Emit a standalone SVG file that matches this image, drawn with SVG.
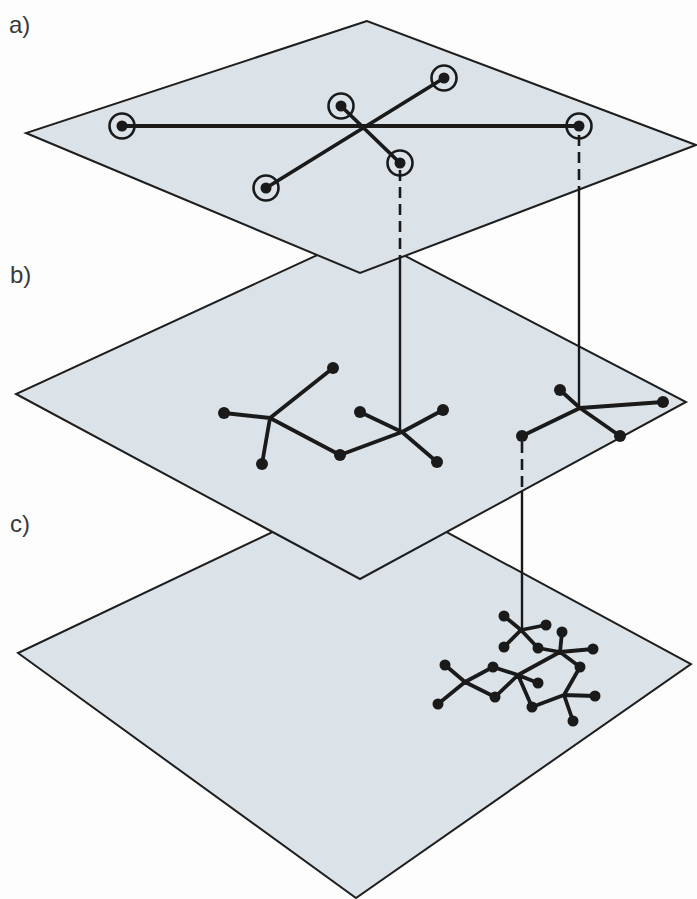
<svg xmlns="http://www.w3.org/2000/svg" xmlns:xlink="http://www.w3.org/1999/xlink" width="697" height="899" viewBox="0 0 697 899">
<style>
.plane{fill:#dbe2e8;stroke:#1e1e1e;stroke-width:2;stroke-linejoin:miter}
.edge{stroke:#1a1a1a;stroke-width:3.8;stroke-linecap:round;stroke-linejoin:round;fill:none}
.link{stroke:#1a1a1a;stroke-width:2.4;fill:none}
.dash{stroke:#1a1a1a;stroke-width:2.6;stroke-dasharray:11 6;fill:none}
.dot{fill:#1a1a1a}
.ring{fill:none;stroke:#1a1a1a;stroke-width:2.6}
.lbl{font-family:"Liberation Sans",Arial,sans-serif;font-size:24px;fill:#3a3a3a}
</style>
<defs>
<g id="rnode"><circle class="ring" r="12.5"/><circle class="dot" r="5.5"/></g>
<circle id="bdot" class="dot" r="6"/>
<circle id="cdot" class="dot" r="5.5"/>
</defs>
<rect width="697" height="899" fill="#fdfdfd"/>
<text class="lbl" x="9" y="33">a)</text>
<text class="lbl" x="10" y="283">b)</text>
<text class="lbl" x="10" y="532">c)</text>

<g id="plane-c"><path class="plane" d="M365,488 L18,653 L356,898 L691,664 Z"/></g>
<g id="plane-b"><path class="plane" d="M363,234 L16,394 L360,579 L686,402 Z"/></g>
<g id="plane-a"><path class="plane" d="M367,21 L26,133 L360,273 L696,145 Z"/></g>

<g id="connectors">
<path class="dash" d="M400,170 V259"/>
<path class="link" d="M400,259 V432"/>
<path class="dash" d="M579,135 V189"/>
<path class="link" d="M579,189 V408"/>
<path class="dash" d="M522,442 V491"/>
<path class="link" d="M522,491 V630"/>
</g>

<g id="edges-a">
<path class="edge" d="M122,126 H579 M266,188 L444,78 M341,106 L400,163"/>
</g>
<g id="edges-b">
<path class="edge" d="M270,418 L333,368 M270,418 L224,413 M270,418 L262,464 M270,418 L340,455 L402,432 M402,432 L360,412 M402,432 L443,410 M402,432 L437,462"/>
<path class="edge" d="M580,408 L560,390 M580,408 L663,402 M580,408 L620,436 M580,408 L522,436"/>
</g>
<g id="edges-c">
<path class="edge" d="M521,630 L504,616 M521,630 L546,625 M521,630 L504,647 M521,630 L538,648 L560,652 M560,652 L562,632 M560,652 L593,649 M560,652 L580,667 M560,652 L518,675 M518,675 L493,667 M518,675 L495,697 M518,675 L538,683 M518,675 L532,707 M465,682 L445,665 M465,682 L438,704 M465,682 L493,667 M465,682 L495,697 M564,695 L532,707 M564,695 L595,696 M564,695 L573,721 M564,695 L580,667"/>
</g>

<g id="n-a1"><use href="#rnode" x="122" y="126"/></g>
<g id="n-a2"><use href="#rnode" x="341" y="106"/></g>
<g id="n-a3"><use href="#rnode" x="444" y="78"/></g>
<g id="n-a4"><use href="#rnode" x="579" y="126"/></g>
<g id="n-a5"><use href="#rnode" x="400" y="163"/></g>
<g id="n-a6"><use href="#rnode" x="266" y="188"/></g>

<g id="n-b1"><use href="#bdot" x="333" y="368"/></g>
<g id="n-b2"><use href="#bdot" x="224" y="413"/></g>
<g id="n-b3"><use href="#bdot" x="262" y="464"/></g>
<g id="n-b4"><use href="#bdot" x="340" y="455"/></g>
<g id="n-b5"><use href="#bdot" x="360" y="412"/></g>
<g id="n-b6"><use href="#bdot" x="443" y="410"/></g>
<g id="n-b7"><use href="#bdot" x="437" y="462"/></g>
<g id="n-b8"><use href="#bdot" x="560" y="390"/></g>
<g id="n-b9"><use href="#bdot" x="663" y="402"/></g>
<g id="n-b10"><use href="#bdot" x="620" y="436"/></g>
<g id="n-b11"><use href="#bdot" x="522" y="436"/></g>

<g id="n-c1"><use href="#cdot" x="504" y="616"/></g>
<g id="n-c2"><use href="#cdot" x="546" y="625"/></g>
<g id="n-c3"><use href="#cdot" x="504" y="647"/></g>
<g id="n-c4"><use href="#cdot" x="538" y="648"/></g>
<g id="n-c5"><use href="#cdot" x="562" y="632"/></g>
<g id="n-c6"><use href="#cdot" x="593" y="649"/></g>
<g id="n-c7"><use href="#cdot" x="580" y="667"/></g>
<g id="n-c8"><use href="#cdot" x="493" y="667"/></g>
<g id="n-c9"><use href="#cdot" x="495" y="697"/></g>
<g id="n-c10"><use href="#cdot" x="538" y="683"/></g>
<g id="n-c11"><use href="#cdot" x="532" y="707"/></g>
<g id="n-c12"><use href="#cdot" x="445" y="665"/></g>
<g id="n-c13"><use href="#cdot" x="438" y="704"/></g>
<g id="n-c14"><use href="#cdot" x="595" y="696"/></g>
<g id="n-c15"><use href="#cdot" x="573" y="721"/></g>
</svg>
